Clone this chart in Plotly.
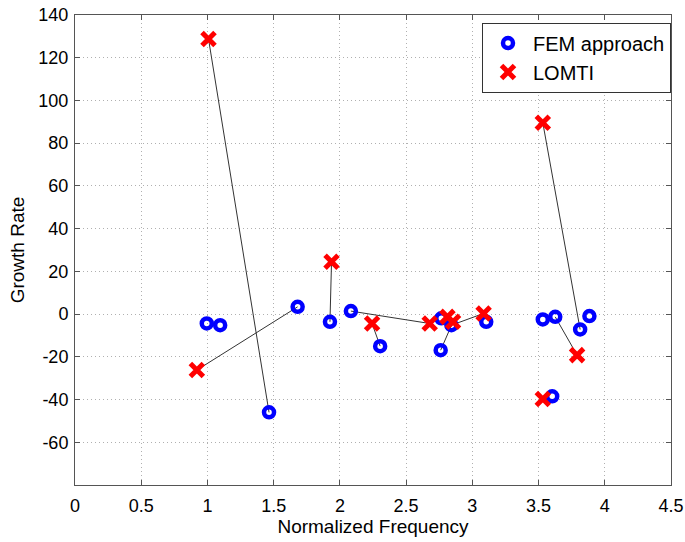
import plotly.graph_objects as go

# FEM approach points
fem_x = [0.995, 1.096, 1.465, 1.681, 1.925, 2.083, 2.304, 2.761, 2.766, 2.842,
         3.105, 3.532, 3.626, 3.814, 3.884, 3.603]
fem_y = [-4.4, -5.2, -46.0, 3.4, -3.6, 1.4, -15.0, -16.9, -2.0, -5.2,
         -3.6, -2.5, -1.3, -7.2, -0.9, -38.5]

# LOMTI points
lomti_x = [1.008, 0.920, 1.937, 2.243, 2.678, 2.812, 2.854, 3.085, 3.532, 3.791, 3.532]
lomti_y = [128.8, -26.2, 24.5, -4.4, -4.4, -1.3, -3.6, 0.3, 89.6, -19.2, -39.7]

# connections (FEM index, LOMTI index)
link_fem = [2, 3, 4, 5, 6, 7, 9, 13, 12]
link_lomti = [0, 1, 2, 4, 3, 6, 7, 8, 9]

x_ticks = [0, 0.5, 1, 1.5, 2, 2.5, 3, 3.5, 4, 4.5]
x_tick_labels = ["0", "0.5", "1", "1.5", "2", "2.5", "3", "3.5", "4", "4.5"]
y_ticks = [-60, -40, -20, 0, 20, 40, 60, 80, 100, 120, 140]
y_tick_labels = ["-60", "-40", "-20", "0", "20", "40", "60", "80", "100", "120", "140"]

lx, ly = [], []
for fi, li in zip(link_fem, link_lomti):
    lx += [fem_x[fi], lomti_x[li], None]
    ly += [fem_y[fi], lomti_y[li], None]

fig = go.Figure()
fig.add_trace(go.Scatter(x=lx, y=ly, mode="lines", line=dict(color="#333333", width=1),
                         showlegend=False, hoverinfo="skip"))
fig.add_trace(go.Scatter(x=fem_x, y=fem_y, mode="markers", name="FEM approach",
                         marker=dict(symbol="circle-open", size=10, color="#0000ff",
                                     line=dict(width=4.5, color="#0000ff"))))
fig.add_trace(go.Scatter(x=lomti_x, y=lomti_y, mode="markers", name="LOMTI",
                         marker=dict(symbol="x-thin-open", size=13, color="#ff0000",
                                     line=dict(width=5, color="#ff0000"))))

font_family = "Liberation Sans, Arial, sans-serif"
axis_common = dict(showline=True, linecolor="#555555", linewidth=1, mirror="ticks",
                   ticks="inside", ticklen=5, tickcolor="#555555", automargin=False,
                   showgrid=True, gridcolor="#b0b0b0", griddash="1px,3px", gridwidth=1,
                   zeroline=False, tickfont=dict(family=font_family, size=18, color="black"))

fig.update_layout(
    width=685, height=542,
    paper_bgcolor="white", plot_bgcolor="white",
    margin=dict(l=75, r=14, t=15, b=57),
    font=dict(family=font_family, color="black"),
    xaxis=dict(range=[0, 4.5], tickvals=x_ticks, ticktext=x_tick_labels,
               title=dict(text="Normalized Frequency", font=dict(size=19), standoff=2),
               ticklabelstandoff=4, **axis_common),
    yaxis=dict(range=[-80, 140], tickvals=y_ticks, ticktext=y_tick_labels,
               title=dict(text="Growth Rate", font=dict(size=19), standoff=8),
               ticklabelstandoff=2, **axis_common),
    legend=dict(x=1.0, y=0.984, xanchor="right", yanchor="top",
                bgcolor="white", bordercolor="#333333", borderwidth=1,
                font=dict(size=20, family=font_family), itemwidth=40,
                tracegroupgap=0),
)

fig.write_html("out.html", config={"displayModeBar": False},
               post_script="document.body.style.margin='0px';document.body.style.overflow='hidden';")
